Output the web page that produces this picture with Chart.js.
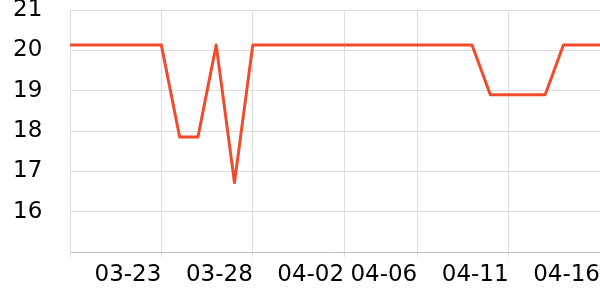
<!DOCTYPE html>
<html>
<head>
<meta charset="utf-8">
<script src="https://cdn.jsdelivr.net/npm/chart.js@4"></script>
<style>
  html, body { margin: 0; padding: 0; background: #fff; }
  #wrap { width: 600px; height: 300px; }
</style>
</head>
<body>
<div id="wrap"><canvas id="chart"></canvas></div>
<script>
// daily dates, 03-18 .. 04-16
const dates = [
    '03-18', '03-19', '03-20', '03-21', '03-22', '03-23', '03-24', '03-25', '03-26', '03-27',
    '03-28', '03-29', '03-30', '03-31', '04-01', '04-02', '04-03', '04-04', '04-05', '04-06',
    '04-07', '04-08', '04-09', '04-10', '04-11', '04-12', '04-13', '04-14', '04-15', '04-16'
];
const values = [
    20.13, 20.13, 20.13, 20.13, 20.13, 20.13, 17.85, 17.85, 20.13, 16.72,
    20.13, 20.13, 20.13, 20.13, 20.13, 20.13, 20.13, 20.13, 20.13, 20.13,
    20.13, 20.13, 20.13, 18.9, 18.9, 18.9, 18.9, 20.13, 20.13, 20.13
];
// dates that get a grid line; the first one carries no label
const gridDates = ['03-18', '03-23', '03-28', '04-02', '04-06', '04-11', '04-16'];
const yTicks = [16, 17, 18, 19, 20, 21];

const tickFont = { family: 'DejaVu Sans', size: 23 };

const ctx = document.getElementById('chart').getContext('2d');
new Chart(ctx, {
    type: 'line',
    data: {
        labels: dates,
        datasets: [{
            data: values,
            borderColor: '#ef4b2c',
            borderWidth: 3,
            borderJoinStyle: 'round',
            pointRadius: 0,
            tension: 0,
            fill: false
        }]
    },
    options: {
        responsive: true,
        maintainAspectRatio: false,
        animation: false,
        layout: { padding: { top: 0, right: 0, left: 13, bottom: 0 } },
        plugins: {
            legend: { display: false },
            tooltip: { enabled: false }
        },
        scales: {
            x: {
                offset: false,
                grid: { color: '#dddddd', tickLength: 5 },
                border: { color: '#bbbbbb' },
                ticks: {
                    autoSkip: false,
                    maxRotation: 0,
                    align: 'end',
                    padding: 4,
                    color: '#000',
                    font: tickFont,
                    callback: function (value, index) {
                        const d = dates[index];
                        if (!gridDates.includes(d)) return null;
                        return index === 0 ? '' : d;
                    }
                },
                afterFit: function (scale) {
                    scale.height = 48;
                    scale.paddingLeft = 0;
                    scale.paddingRight = 0;
                }
            },
            y: {
                min: 15,
                max: 21,
                grid: { color: '#dddddd', drawTicks: false },
                border: { color: '#dddddd' },
                ticks: {
                    stepSize: 1,
                    padding: 0,
                    crossAlign: 'far',
                    color: '#000',
                    font: tickFont,
                    callback: function (value) {
                        return yTicks.includes(value) ? String(value) : '';
                    }
                },
                afterFit: function (scale) {
                    scale.width = 57;
                    scale.paddingTop = 10;
                    scale.paddingBottom = 0;
                }
            }
        }
    }
});
</script>
</body>
</html>
